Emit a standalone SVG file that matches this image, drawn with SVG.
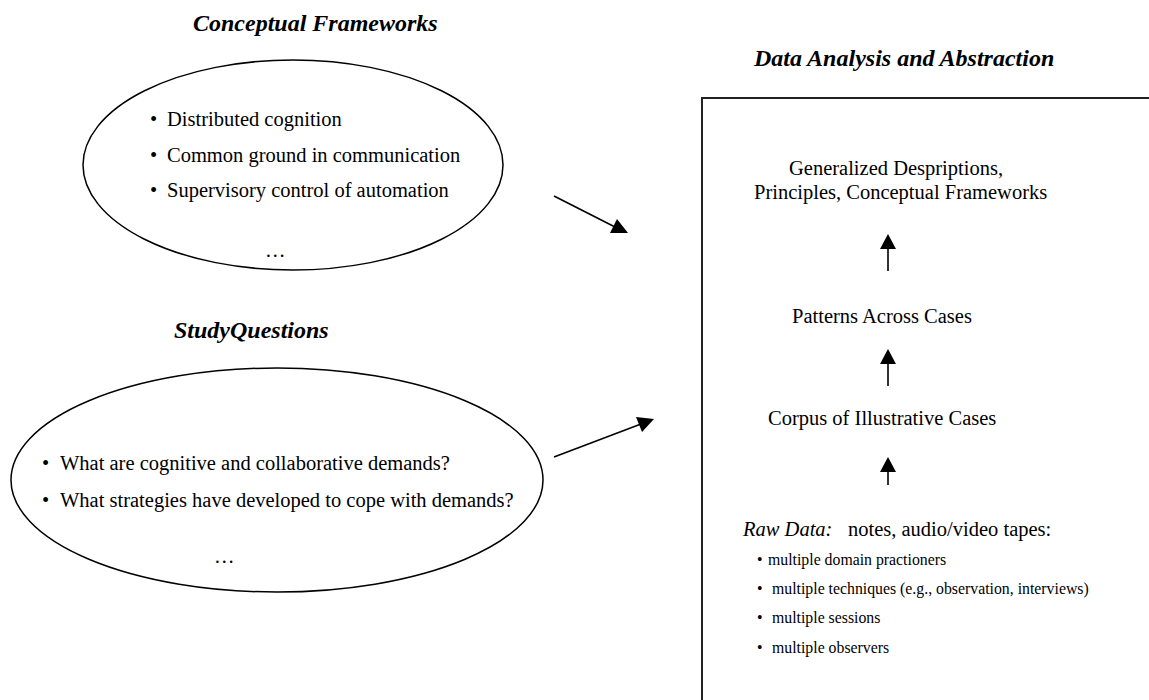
<svg xmlns="http://www.w3.org/2000/svg" width="1149" height="700" viewBox="0 0 1149 700">
<style>
text{font-family:"Liberation Serif","Times New Roman",serif;fill:#000}
.t{font-size:20.5px}
.h{font-size:24px;font-weight:bold;font-style:italic}
.s{font-size:15.8px}
.i{font-style:italic}
.sh{fill:none;stroke:#000;stroke-width:1.5}
.ln{stroke:#000;stroke-width:1.6;fill:none}
.vl{stroke:#333;stroke-width:2;fill:none}
.hd{fill:#000;stroke:none}
</style>
<rect width="1149" height="700" fill="#fff"/>
<g id="title-conceptual"><text class="h" x="193" y="31">Conceptual Frameworks</text></g>
<g id="node-conceptual">
<ellipse class="sh" cx="293" cy="165" rx="210" ry="105"/>
<text class="t" x="150" y="126">•</text><text class="t" x="167" y="126">Distributed cognition</text>
<text class="t" x="150" y="162">•</text><text class="t" x="167" y="162">Common ground in communication</text>
<text class="t" x="150" y="197">•</text><text class="t" x="167" y="197">Supervisory control of automation</text>
<text class="t" x="265" y="257">…</text>
</g>
<g id="title-study"><text class="h" x="174" y="338">StudyQuestions</text></g>
<g id="node-study">
<ellipse class="sh" cx="277" cy="480" rx="266" ry="112"/>
<text class="t" x="42" y="470">•</text><text class="t" x="60" y="470">What are cognitive and collaborative demands?</text>
<text class="t" x="42" y="507">•</text><text class="t" x="60" y="507">What strategies have developed to cope with demands?</text>
<text class="t" x="214" y="563">…</text>
</g>
<g id="title-data"><text class="h" x="754" y="66">Data Analysis and Abstraction</text></g>
<g id="node-data">
<rect x="702" y="98" width="470" height="640" fill="none" stroke="#222" stroke-width="2"/>
<text class="t" x="789" y="175">Generalized Despriptions,</text>
<text class="t" x="754" y="199">Principles, Conceptual Frameworks</text>
<text class="t" x="792" y="323">Patterns Across Cases</text>
<text class="t" x="768" y="425">Corpus of Illustrative Cases</text>
<text class="t" x="743" y="536"><tspan class="i">Raw Data:</tspan></text>
<text class="t" x="848" y="536">notes, audio/video tapes:</text>
<text class="s" x="757" y="565">•</text><text class="s" x="768" y="565">multiple domain practioners</text>
<text class="s" x="757" y="594">•</text><text class="s" x="772" y="594">multiple techniques (e.g., observation, interviews)</text>
<text class="s" x="757" y="623">•</text><text class="s" x="772" y="623">multiple sessions</text>
<text class="s" x="757" y="653">•</text><text class="s" x="772" y="653">multiple observers</text>
</g>
<g id="connectors">
<line class="ln" x1="554" y1="196" x2="615" y2="227"/>
<polygon class="hd" points="617,219 610,233 628,233"/>
<line class="ln" x1="554" y1="457" x2="641" y2="424"/>
<polygon class="hd" points="636,417 654,419 642,432"/>
<line class="vl" x1="888" y1="247" x2="888" y2="271"/>
<polygon class="hd" points="888,234 880,249 896,249"/>
<line class="vl" x1="888" y1="362" x2="888" y2="386"/>
<polygon class="hd" points="888,349 880,364 896,364"/>
<line class="vl" x1="888" y1="470" x2="888" y2="485"/>
<polygon class="hd" points="888,457 880,472 896,472"/>
</g>
</svg>
